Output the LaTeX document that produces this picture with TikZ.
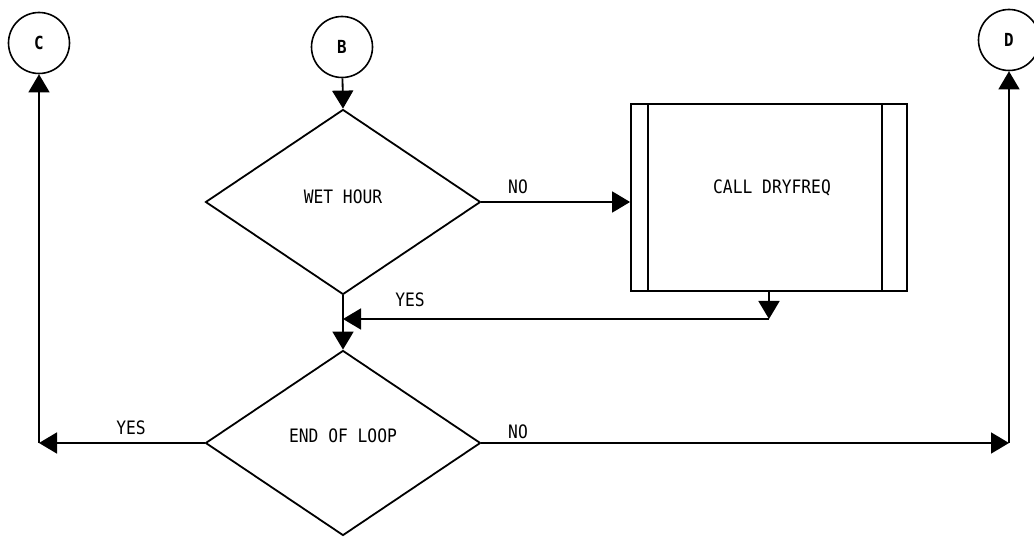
\documentclass[tikz,border=0pt]{standalone}
\usepackage{fontspec}
\setmonofont{DejaVu Sans Mono}[FakeStretch=0.88]
\usetikzlibrary{arrows.meta,shapes.geometric}
\begin{document}
\begin{tikzpicture}[x=1pt,y=-1pt,
  every node/.style={font=\ttfamily\fontsize{18.5}{18.5}\selectfont},
  conn/.style={line width=1.8pt},
  thinconn/.style={line width=1.3pt},
  arr/.style={-{Triangle[length=18pt,width=21pt]}},
  connector/.style={circle,draw,line width=1.6pt,minimum size=61pt,inner sep=0pt,
    font=\ttfamily\bfseries\fontsize{18}{18}\selectfont},
  decision/.style={diamond,draw,line width=1.8pt,minimum width=275pt,minimum height=185pt,inner sep=0pt},
  procbox/.style={rectangle,draw,line width=1.8pt,minimum width=276pt,minimum height=187pt,inner sep=0pt},
  lbl/.style={inner sep=1pt}]
\useasboundingbox (0,0) rectangle (1034,537);

\node[connector] (C) at (39,43) {C};
\node[connector] (B) at (342,47) {B};
\node[connector] (D) at (1009,40) {D};

\node[decision] (wet) at (343,202) {};
\node[decision] (eol) at (343,443) {};
\node (wettext) at (343,197) {WET HOUR};
\node (eoltext) at (343,436) {END OF LOOP};

\node[procbox] (proc) at (769,197.5) {};
\draw[line width=1.6pt] ([xshift=18pt]proc.north west) -- ([xshift=18pt]proc.south west);
\draw[line width=1.6pt] ([xshift=-26pt]proc.north east) -- ([xshift=-26pt]proc.south east);
\node (proctext) at (772,188) {CALL DRYFREQ};

\coordinate (j1) at (769,319);
\coordinate (cl) at (39,443);
\coordinate (dr) at (1009,443);

\draw[conn,arr] (B) -- (wet.north);
\draw[conn,arr] (wet.east) -- (proc.west |- wet.east);
\draw[conn,arr] (proc.south) -- (j1);
\draw[conn,arr] (j1) -- (wet.south |- j1);
\draw[conn,arr] (wet.south) -- (eol.north);
\draw[conn,arr] (eol.west) -- (cl);
\draw[thinconn,arr] (cl) -- (C);
\draw[conn,arr] (eol.east) -- (dr);
\draw[thinconn,arr] (dr) -- (D);

\node[lbl] (l1) at (518,187) {NO};
\node[lbl] (l2) at (410,300) {YES};
\node[lbl] (l3) at (131,428) {YES};
\node[lbl] (l4) at (518,432) {NO};
\end{tikzpicture}
\end{document}
